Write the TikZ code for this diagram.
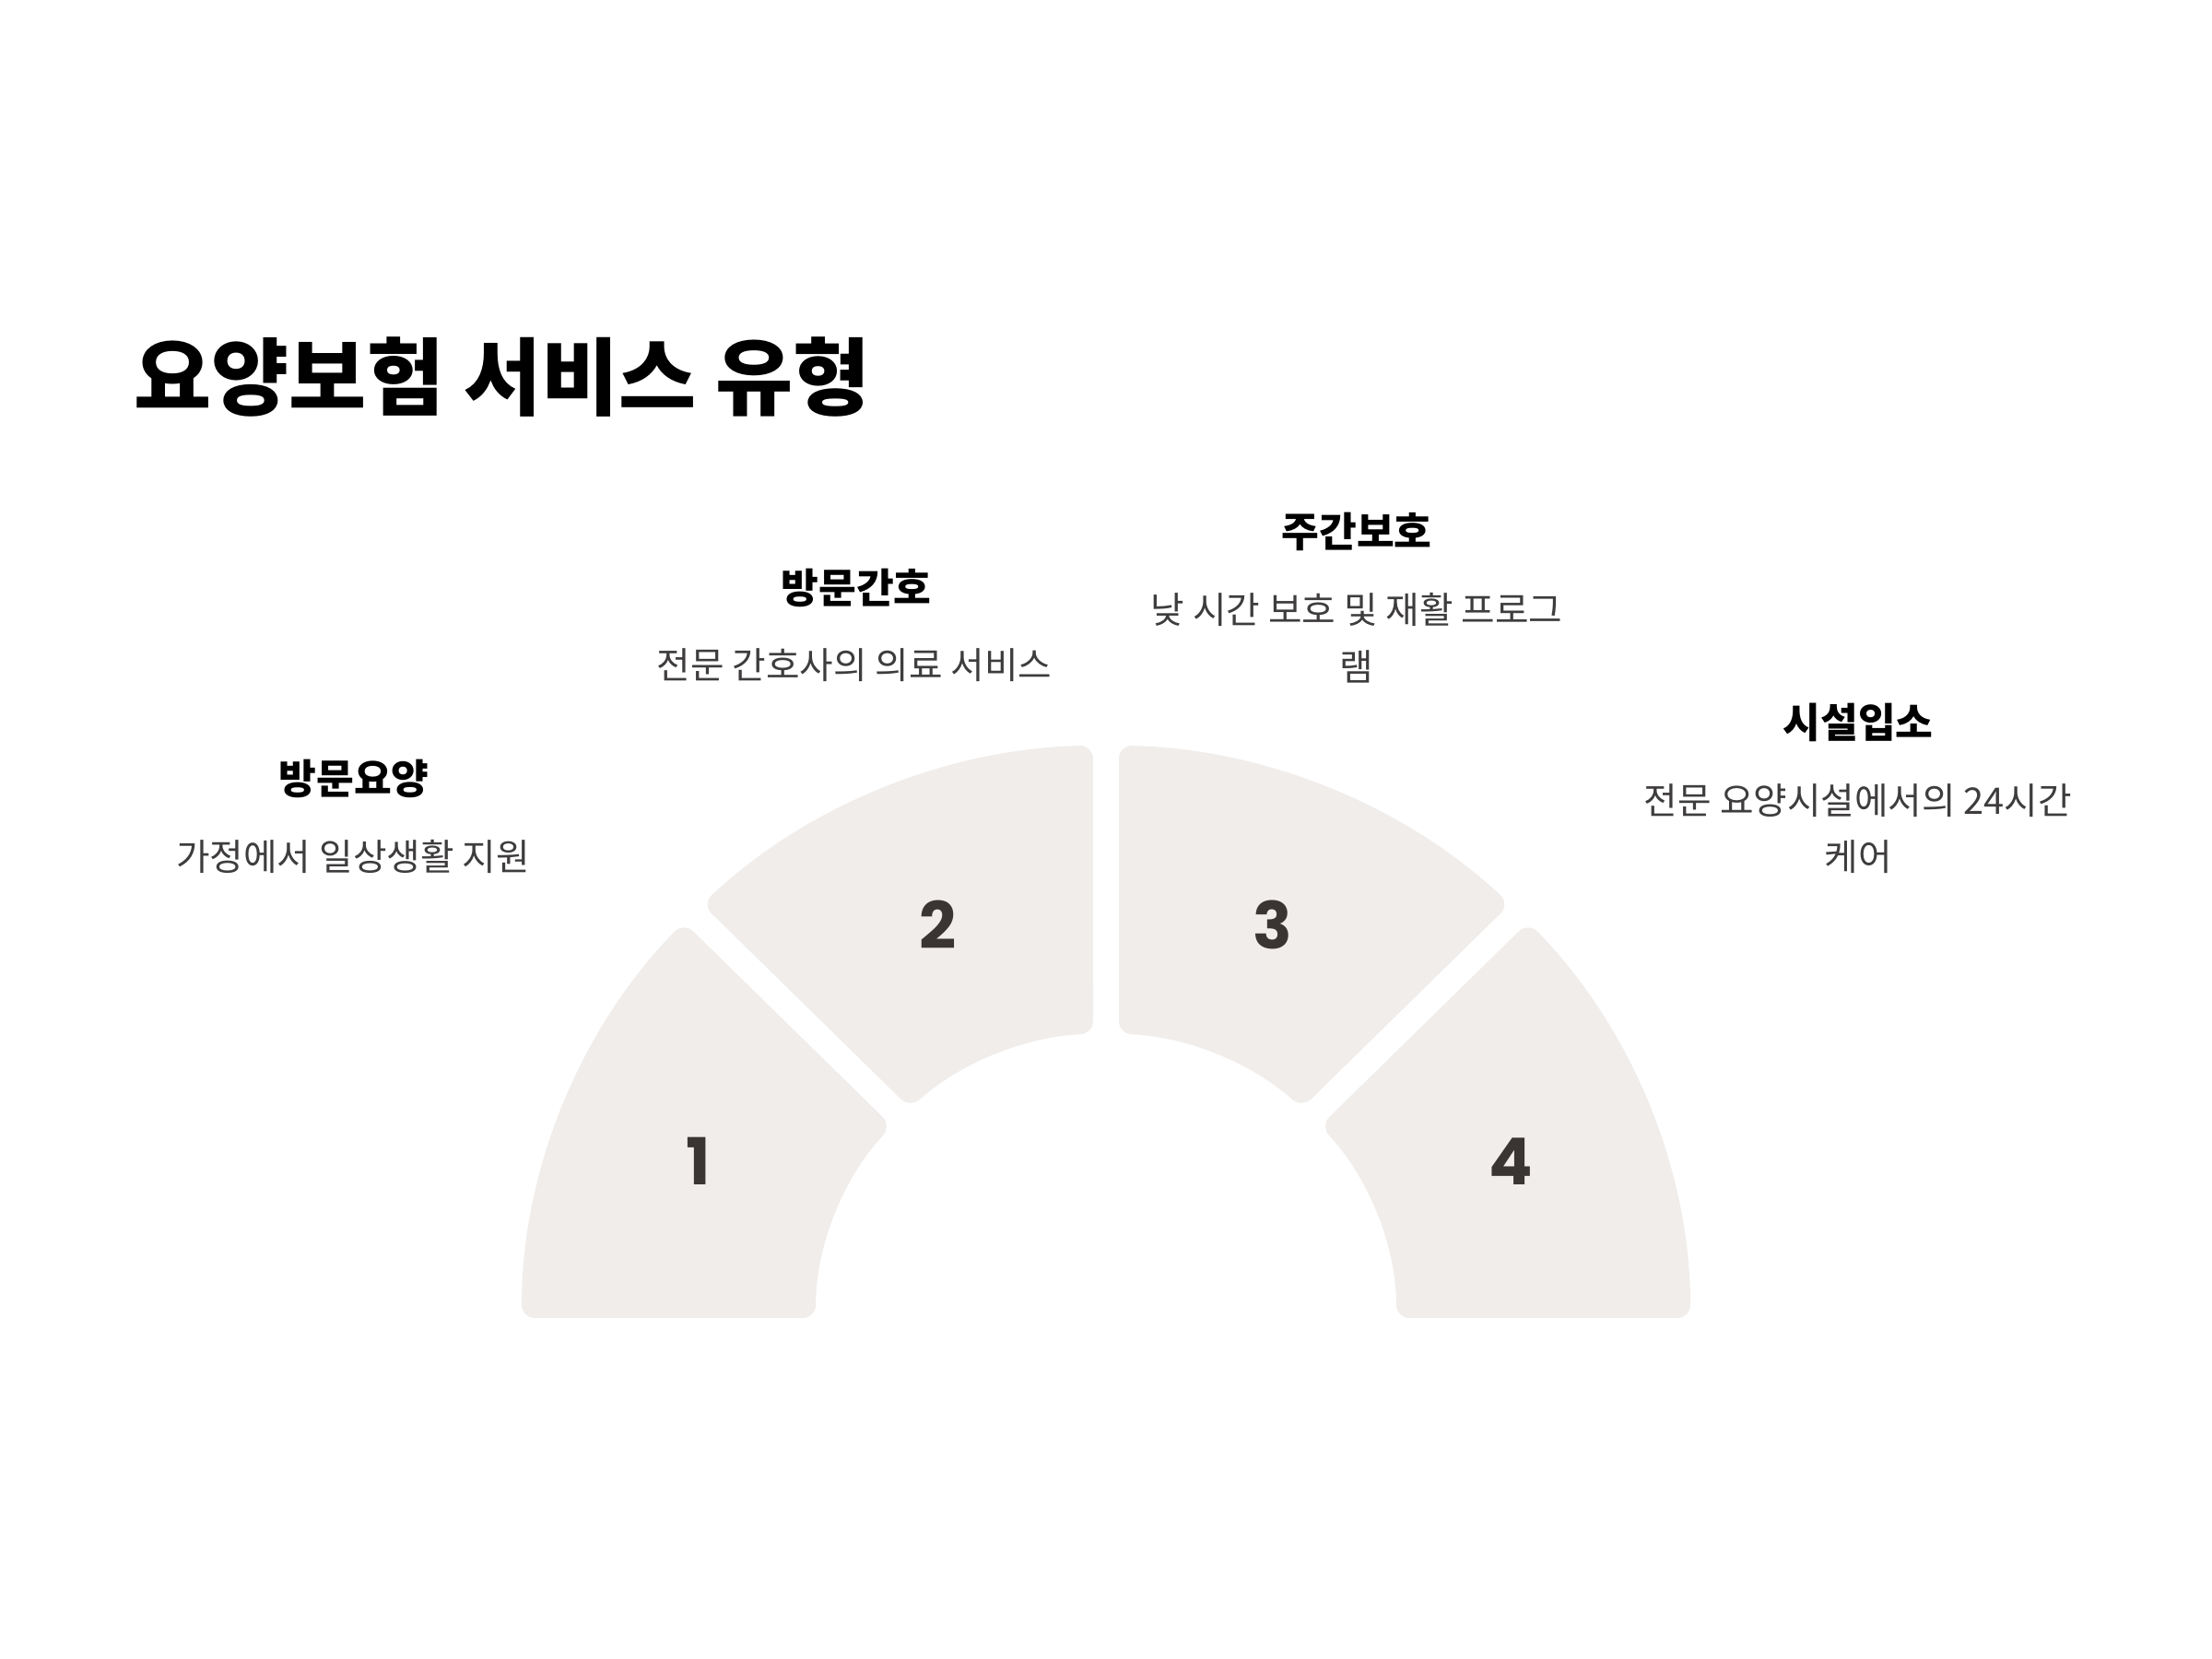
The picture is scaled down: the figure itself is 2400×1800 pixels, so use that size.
\documentclass[tikz,border=0pt]{standalone}
\usepackage{fontspec}
\newfontfamily\krfont{Noto Sans CJK KR}
\newfontfamily\numfont{Poppins}
\definecolor{segfill}{RGB}{240,237,235}
\definecolor{numgray}{RGB}{58,53,51}
\definecolor{descgray}{RGB}{62,60,60}
\tikzset{
  title-text/.style={
    font=\krfont\bfseries\fontsize{26}{31}\selectfont,
    anchor=west,
    inner sep=0pt
  },
  head-text/.style={
    font=\krfont\bfseries\fontsize{12.6}{15}\selectfont,
    inner sep=0pt
  },
  desc-text/.style={
    font=\krfont\fontsize{11.3}{17.4}\selectfont,
    text=descgray,
    align=center,
    inner sep=0pt
  },
  seg/.style={fill=segfill, rounded corners=4pt},
  num-text/.style={
    font=\numfont\bfseries\fontsize{20}{24}\selectfont,
    text=numgray,
    inner sep=0pt
  }
}
\newcommand{\Rout}{634}
\newcommand{\Rin}{315}

\begin{document}
\begin{tikzpicture}[x=0.01cm, y=0.01cm]
  \useasboundingbox (0,0) rectangle (2400,1800);
  \fill[white] (0,0) rectangle (2400,1800);

  \node[title-text] (title) at (145,1391) {요양보험 서비스 유형};

  % half ring
  \begin{scope}[shift={(1200,370)}, yscale=0.98]
    \foreach \so/\eo/\si/\ei in {136.27/180/137.55/180, 91.27/133.73/92.55/132.45,
                                 46.27/88.73/47.55/87.45, 0/43.73/0/42.45} {
      \fill[seg] (\so:\Rout) arc[start angle=\so, end angle=\eo, radius=\Rout]
        -- (\ei:\Rin) arc[start angle=\ei, end angle=\si, radius=\Rin] -- cycle;
    }
  \end{scope}
  \begin{scope}[shift={(1200,370)}]
    \foreach \n/\x/\y in {1/-442/170, 2/-182/427, 3/181/427, 4/439/170} {
      \node[num-text] (num\n) at (\x,\y) {\n};
    }
  \end{scope}

  \node[head-text] (head1) at (384,955) {방문요양};
  \node[desc-text] (desc1) at (383,871) {가정에서 일상생활 지원};

  \node[head-text] (head2) at (929,1162) {방문간호};
  \node[desc-text] (desc2) at (927,1078) {전문 간호사의 의료 서비스};

  \node[head-text] (head3) at (1472,1223) {주간보호};
  \node[desc-text, anchor=north] (desc3) at (1472,1157) {낮 시간 보호 및 재활 프로그\\램};

  \node[head-text] (head4) at (2016,1016) {시설입소};
  \node[desc-text, anchor=north] (desc4) at (2016,950) {전문 요양시설에서의 24시간\\케어};
\end{tikzpicture}
\end{document}
